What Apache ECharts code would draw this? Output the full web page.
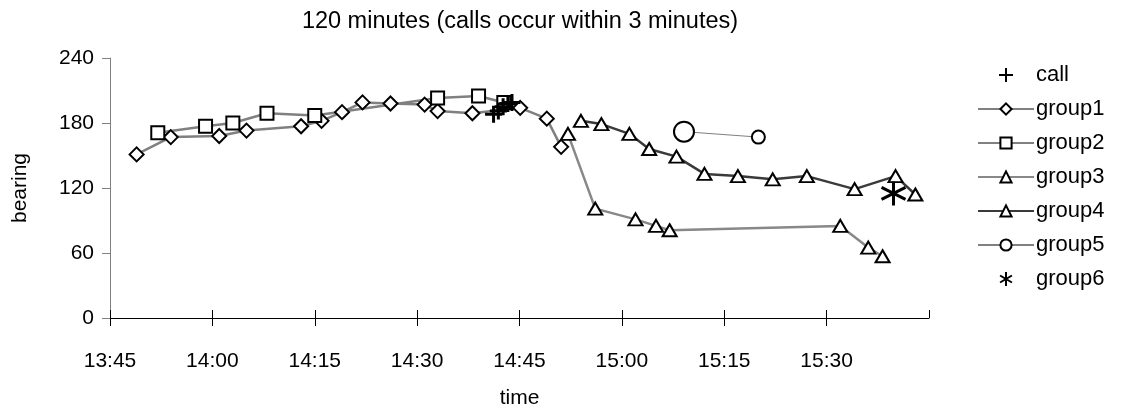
<!DOCTYPE html>
<html>
<head>
<meta charset="utf-8">
<script src="https://cdn.jsdelivr.net/npm/echarts@6/dist/echarts.min.js"></script>
<style>
  html, body { margin: 0; padding: 0; background: #fff; }
  #chart { width: 1125px; height: 416px; }
</style>
</head>
<body>
<div id="chart"></div>
<script>
// Bearing observations per group, time as HH:MM:SS and bearing in degrees
const callTimes = ['14:41:12', '14:41:54', '14:42:36', '14:43:18', '14:43:54'];
const callBearings = [188, 191, 195, 198, 199];

const group1Times = ['13:48:54', '13:53:54', '14:01:00', '14:05:00', '14:13:00', '14:16:00', '14:19:00', '14:22:00',
  '14:26:06', '14:31:06', '14:33:00', '14:38:06', '14:45:06', '14:49:00', '14:51:06'];
const group1Bearings = [151, 167, 168, 173, 177, 182, 190, 199, 198, 197, 191, 189, 194, 184, 158];

const group2Times = ['13:52:00', '13:59:00', '14:03:00', '14:08:00', '14:15:00', '14:33:00', '14:39:00', '14:42:42'];
const group2Bearings = [171, 177, 180, 189, 187, 203, 205, 199];

const group3Times = ['14:52:06', '14:56:06', '15:02:00', '15:05:00', '15:07:00', '15:32:00', '15:36:06', '15:38:12'];
const group3Bearings = [170, 101, 91, 85, 81, 85, 65, 57];

const group4Times = ['14:54:00', '14:57:00', '15:01:06', '15:04:00', '15:08:00', '15:12:06', '15:17:00', '15:22:06',
  '15:27:06', '15:34:06', '15:40:06', '15:43:00'];
const group4Bearings = [182, 179, 170, 156, 149, 133, 131, 128, 131, 119, 131, 114];

const group5Times = ['15:09:06', '15:20:00'];
const group5Bearings = [172, 167];
const group5Sizes = [20, 13];

const group6Times = ['15:39:48'];
const group6Bearings = [115];

const yTicks = [0, 60, 120, 180, 240];

// time axis runs in minutes after midnight
function toMinutes(s) {
  const p = s.split(':').map(Number);
  return p[0] * 60 + p[1] + (p[2] || 0) / 60;
}
function pad(n) { return (n < 10 ? '0' : '') + n; }
function fmtTime(v) {
  const m = Math.round(v);
  return Math.floor(m / 60) + ':' + pad(m % 60);
}
function pairs(times, vals) {
  return times.map((t, i) => [toMinutes(t), vals[i]]);
}

const FONT = 'Liberation Sans, Arial, sans-serif';
const X_MIN = toMinutes('13:45');
const X_MAX = toMinutes('15:45');

const plusPath = 'path://M0,10 L20,10 M10,0 L10,20';
const starPath = 'path://M10,0 L10,20 M1.5,5 L18.5,15 M1.5,15 L18.5,5';

const hollow = { color: '#fff', borderColor: '#000', borderWidth: 2 };

const chart = echarts.init(document.getElementById('chart'), null, { renderer: 'canvas' });

chart.setOption({
  animation: false,
  backgroundColor: '#fff',
  title: {
    text: '120 minutes (calls occur within 3 minutes)',
    left: 515, top: 5, textAlign: 'center',
    textStyle: { fontFamily: FONT, fontSize: 23.5, fontWeight: 'normal', color: '#000' }
  },
  legend: {
    orient: 'vertical',
    left: 972, top: 59,
    itemWidth: 56, itemHeight: 14, itemGap: 12,
    textStyle: { fontFamily: FONT, fontSize: 22, color: '#000', padding: [0, 0, 0, -3] },
    data: ['call', 'group1', 'group2', 'group3', 'group4', 'group5', 'group6']
  },
  grid: { left: 110, right: 196, top: 58, bottom: 98, containLabel: false, outerBoundsMode: 'none' },
  xAxis: [{
    type: 'value', min: X_MIN, max: X_MAX, interval: 15,
    name: 'time', nameLocation: 'middle', nameGap: 70,
    nameTextStyle: { fontFamily: FONT, fontSize: 21, color: '#000' },
    axisLine: { onZero: false, lineStyle: { color: '#000', width: 1 } },
    axisTick: { show: true, inside: false, length: 8, lineStyle: { color: '#000' } },
    axisLabel: {
      fontFamily: FONT, fontSize: 21, color: '#000', margin: 33,
      showMaxLabel: false,
      formatter: v => fmtTime(v)
    },
    splitLine: { show: false }
  }, {
    // upper half of the cross ticks
    type: 'value', min: X_MIN, max: X_MAX, interval: 15, position: 'bottom',
    axisLine: { show: false },
    axisTick: { show: true, inside: true, length: 8, lineStyle: { color: '#000' } },
    axisLabel: { show: false },
    splitLine: { show: false }
  }],
  yAxis: {
    type: 'value', min: yTicks[0], max: yTicks[yTicks.length - 1], interval: 60,
    name: 'bearing', nameLocation: 'middle', nameGap: 79, nameRotate: 90,
    nameTextStyle: { fontFamily: FONT, fontSize: 21, color: '#000' },
    axisLine: { show: true, lineStyle: { color: '#808080', width: 1 } },
    axisTick: { show: true, inside: false, length: 8, lineStyle: { color: '#808080' } },
    axisLabel: { fontFamily: FONT, fontSize: 21, color: '#000', margin: 16 },
    splitLine: { show: false }
  },
  series: [
    {
      name: 'call', type: 'scatter', z: 5,
      symbol: plusPath, symbolSize: 17,
      itemStyle: { color: 'none', borderColor: '#000', borderWidth: 3, opacity: 1 },
      data: pairs(callTimes, callBearings)
    },
    {
      name: 'group1', type: 'line',
      symbol: 'diamond', symbolSize: 14,
      lineStyle: { color: '#808080', width: 2.5 },
      itemStyle: hollow,
      data: pairs(group1Times, group1Bearings)
    },
    {
      name: 'group2', type: 'line',
      symbol: 'rect', symbolSize: 13,
      lineStyle: { color: '#808080', width: 2.5 },
      itemStyle: hollow,
      data: pairs(group2Times, group2Bearings)
    },
    {
      name: 'group3', type: 'line',
      symbol: 'triangle', symbolSize: [14, 12],
      lineStyle: { color: '#888888', width: 2.5 },
      itemStyle: hollow,
      data: pairs(group3Times, group3Bearings)
    },
    {
      name: 'group4', type: 'line',
      symbol: 'triangle', symbolSize: [14, 12],
      lineStyle: { color: '#3a3a3a', width: 2.5 },
      itemStyle: hollow,
      data: pairs(group4Times, group4Bearings)
    },
    {
      name: 'group5', type: 'line',
      symbol: 'circle',
      lineStyle: { color: '#808080', width: 1 },
      itemStyle: hollow,
      data: pairs(group5Times, group5Bearings).map((d, i) => ({ value: d, symbolSize: group5Sizes[i] }))
    },
    {
      name: 'group6', type: 'scatter', z: 5,
      symbol: starPath, symbolSize: 24,
      itemStyle: { color: 'none', borderColor: '#000', borderWidth: 3, opacity: 1 },
      data: pairs(group6Times, group6Bearings)
    }
  ]
});
</script>
</body>
</html>
